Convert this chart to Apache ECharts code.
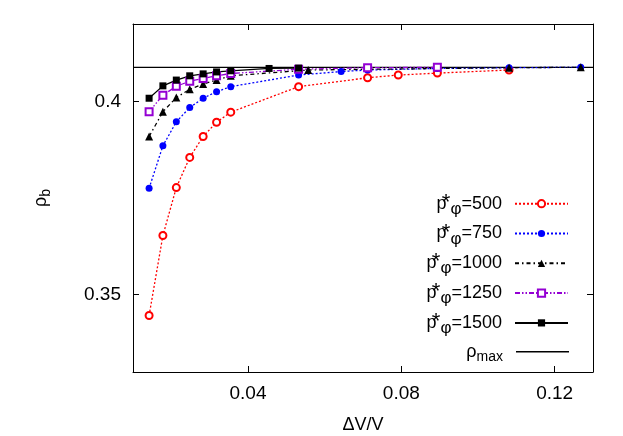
<!DOCTYPE html>
<html>
<head>
<meta charset="utf-8">
<script src="https://cdn.jsdelivr.net/npm/echarts@6/dist/echarts.min.js"></script>
<style>
    html, body { margin: 0; padding: 0; background: #fff; }
    #main { width: 623px; height: 436px; }
</style>
</head>
<body>
<div id="main"></div>
<script>
    // values
    var dv500 = [0.0142, 0.0178, 0.0213, 0.0248, 0.0283, 0.0318, 0.0355, 0.0532, 0.0712, 0.0792, 0.0894, 0.1081];
    var rho500 = [0.3446, 0.3653, 0.3777, 0.3855, 0.3909, 0.3946, 0.3972, 0.4038, 0.4061, 0.4068, 0.4073, 0.4081];

    var dv750 = [0.0142, 0.0178, 0.0213, 0.0248, 0.0283, 0.0318, 0.0355, 0.0532, 0.0643, 0.0712, 0.0894, 0.1081, 0.1268];
    var rho750 = [0.3775, 0.3885, 0.3947, 0.3984, 0.4008, 0.4025, 0.4038, 0.4068, 0.4077, 0.4081, 0.4085, 0.4087, 0.4088];

    var dv1000 = [0.0142, 0.0178, 0.0213, 0.0248, 0.0283, 0.0318, 0.0355, 0.0557, 0.1081, 0.1268];
    var rho1000 = [0.3909, 0.3973, 0.4010, 0.4031, 0.4045, 0.4055, 0.4066, 0.4081, 0.4087, 0.4088];

    var dv1250 = [0.0142, 0.0178, 0.0213, 0.0248, 0.0283, 0.0318, 0.0355, 0.0532, 0.0712, 0.0894];
    var rho1250 = [0.3973, 0.4016, 0.4039, 0.4052, 0.4059, 0.4066, 0.4072, 0.4083, 0.4087, 0.4088];

    var dv1500 = [0.0142, 0.0178, 0.0213, 0.0248, 0.0283, 0.0318, 0.0355, 0.0455, 0.0532];
    var rho1500 = [0.4008, 0.4040, 0.4055, 0.4066, 0.4071, 0.4076, 0.4079, 0.4085, 0.4086];

    var rhoMax = 0.4088;
    var xRange = [0.01, 0.13];
    var yRange = [0.33, 0.42];
    var xTicks = [0.04, 0.08, 0.12];
    var yTicks = [0.35, 0.4];

    var FONT = 'Liberation Sans';

    function pairs(xs, ys) {
        var out = [];
        for (var i = 0; i < xs.length; ++i) out.push([xs[i], ys[i]]);
        return out;
    }

    var legendRich = {
        p: {fontSize: 18, fontFamily: FONT, color: '#000', lineHeight: 26},
        ast: {fontSize: 22, fontFamily: FONT, color: '#000', lineHeight: 26, width: 0, padding: [0, 0, 2, 4]},
        phi: {fontSize: 17, fontFamily: FONT, color: '#000', lineHeight: 26, padding: [11, 0, 0, 0]},
        n: {fontSize: 18, fontFamily: FONT, color: '#000', lineHeight: 26},
        r: {fontSize: 18, fontFamily: FONT, color: '#000', lineHeight: 26},
        s: {fontSize: 14, fontFamily: FONT, color: '#000', lineHeight: 26, padding: [10, 0, 0, 0]}
    };

    function pname(v) { return '{p|p}{ast|*}{phi|φ}{n|=' + v + '}'; }

    var names = ['500', '750', '1000', '1250', '1500', 'max'];
    var rowY = [202.7, 232.5, 262.3, 292.1, 321.9, 351.7];

    var legends = [];
    for (var k = 0; k < names.length; ++k) {
        var isMax = names[k] === 'max';
        var lg = {
            orient: 'vertical',
            right: 54,
            top: rowY[k] - 13,
            padding: 0,
            align: 'right',
            itemWidth: 53,
            itemHeight: isMax ? 1.5 : 9,
            selectedMode: false,
            data: [isMax ? {name: names[k], icon: 'rect'} : names[k]],
            formatter: function (n) {
                return n === 'max' ? '{r|ρ}{s|max}' : pname(n);
            },
            textStyle: {padding: [0, 8, 0, 0], rich: legendRich, lineHeight: 26}
        };
        if (isMax) lg.itemStyle = {color: '#000'};
        legends.push(lg);
    }

    function lineSeries(name, data, color, dash, symbol, size) {
        return {
            name: name,
            type: 'line',
            data: data,
            xAxisIndex: 0,
            yAxisIndex: 0,
            symbol: symbol,
            symbolSize: size,
            showSymbol: true,
            color: color,
            lineStyle: {color: color, width: 1.3, type: dash},
            itemStyle: {color: color, borderWidth: 1.6},
            emphasis: {disabled: true},
            z: 3
        };
    }

    var axisCommon = {
        type: 'value',
        axisLine: {show: true, onZero: false, lineStyle: {color: '#000', width: 1}},
        splitLine: {show: false}
    };

    var option = {
        animation: false,
        backgroundColor: '#fff',
        grid: {left: 133, right: 30, top: 24, bottom: 64, containLabel: false, outerBoundsMode: 'none'},
        legend: legends,
        xAxis: [
            Object.assign({}, axisCommon, {
                position: 'bottom', min: xRange[0], max: xRange[1],
                name: 'ΔV/V', nameLocation: 'middle', nameGap: 44,
                nameTextStyle: {fontSize: 18, fontFamily: FONT, color: '#000'},
                axisTick: {show: true, inside: true, length: 6, customValues: xTicks, lineStyle: {color: '#000'}},
                axisLabel: {show: true, customValues: xTicks, margin: 12, fontSize: 19, fontFamily: FONT, color: '#000'}
            }),
            Object.assign({}, axisCommon, {
                position: 'top', min: xRange[0], max: xRange[1],
                axisTick: {show: true, inside: true, length: 6, customValues: xTicks, lineStyle: {color: '#000'}},
                axisLabel: {show: false}
            })
        ],
        yAxis: [
            Object.assign({}, axisCommon, {
                position: 'left', min: yRange[0], max: yRange[1],
                name: '{a|ρ}{b|b}', nameLocation: 'middle', nameGap: 80, nameRotate: 90,
                nameTextStyle: {
                    color: '#000',
                    rich: {
                        a: {fontSize: 18, fontFamily: FONT, color: '#000'},
                        b: {fontSize: 14, fontFamily: FONT, color: '#000', padding: [9, 0, 0, 0]}
                    }
                },
                axisTick: {show: true, inside: true, length: 6, customValues: yTicks, lineStyle: {color: '#000'}},
                axisLabel: {show: true, customValues: yTicks, margin: 12, fontSize: 19, fontFamily: FONT, color: '#000'}
            }),
            Object.assign({}, axisCommon, {
                position: 'right', min: yRange[0], max: yRange[1],
                axisTick: {show: true, inside: true, length: 6, customValues: yTicks, lineStyle: {color: '#000'}},
                axisLabel: {show: false}
            })
        ],
        series: [
            lineSeries('500', pairs(dv500, rho500), '#ff0000', [2, 2], 'emptyCircle', 7),
            lineSeries('750', pairs(dv750, rho750), '#0000ff', [2, 2], 'circle', 7),
            lineSeries('1000', pairs(dv1000, rho1000), '#000000', [4, 3, 1.5, 3], 'triangle', 8),
            lineSeries('1250', pairs(dv1250, rho1250), '#9400d3', [5, 2, 1.5, 2, 1.5, 2], 'emptyRect', 7),
            lineSeries('1500', pairs(dv1500, rho1500), '#000000', 'solid', 'rect', 7),
            {
                name: 'max',
                type: 'line',
                data: [[xRange[0], rhoMax], [xRange[1], rhoMax]],
                symbol: 'none',
                lineStyle: {color: '#000', width: 1.3},
                color: '#000',
                emphasis: {disabled: true},
                z: 2
            }
        ]
    };

    var myChart = echarts.init(document.getElementById('main'), null, {renderer: 'canvas'});
    myChart.setOption(option);
</script>
</body>
</html>
